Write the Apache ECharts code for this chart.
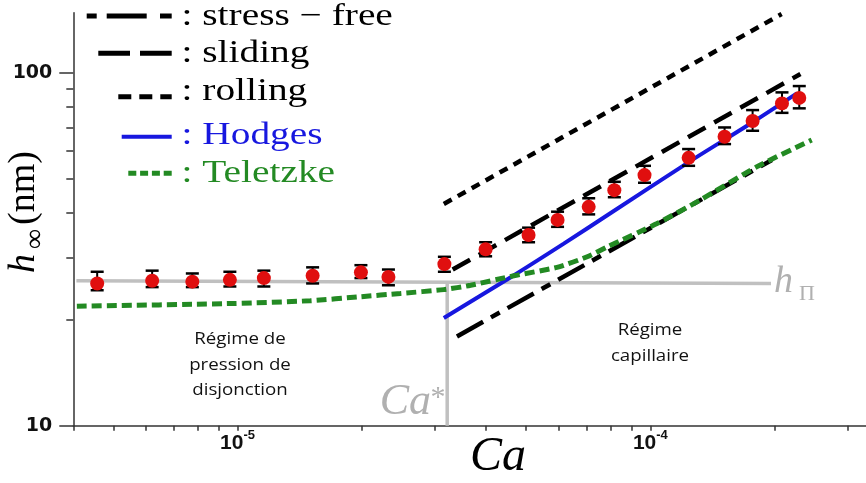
<!DOCTYPE html>
<html><head><meta charset="utf-8">
<script src="https://cdn.jsdelivr.net/npm/echarts@6/dist/echarts.min.js"></script>
<style>html,body{margin:0;padding:0;background:#fff}#c{width:866px;height:483px}</style>
</head><body><div id="c"></div>
<script>
// ---- data ----
const expCa   = [4.57e-6, 6.21e-6, 7.77e-6, 9.58e-6, 1.158e-5, 1.52e-5, 1.99e-5, 2.32e-5, 3.17e-5, 3.99e-5, 5.07e-5, 5.96e-5, 7.09e-5, 8.18e-5, 9.68e-5, 1.238e-4, 1.513e-4, 1.769e-4, 2.084e-4, 2.295e-4];
const expH    = [25.3, 25.75, 25.6, 25.9, 26.2, 26.6, 27.2, 26.4, 28.7, 31.6, 34.7, 38.3, 41.7, 46.5, 51.3, 57.4, 65.9, 73.0, 81.9, 84.9];
const expLow  = [24.2, 24.7, 24.7, 24.8, 24.8, 25.3, 26.2, 25.0, 27.3, 30.2, 33.1, 36.6, 39.7, 44.4, 48.8, 54.5, 62.8, 68.5, 77.0, 79.3];
const expHigh = [27.3, 27.5, 27.0, 27.3, 27.5, 28.1, 28.5, 27.7, 30.1, 33.1, 36.4, 40.4, 44.1, 49.1, 54.5, 60.8, 70.0, 78.4, 88.0, 91.7];

const stressFreeCa = [3.4e-5, 1.97e-4];
const stressFreeH  = [17.9, 56.6];
const slidingCa    = [3.32e-5, 2.31e-4];
const slidingH     = [27.7, 99.2];
const rollingCa    = [3.16e-5, 2.08e-4];
const rollingH     = [42.5, 146.7];
const hodgesCa     = [3.16e-5, 4.58e-5, 6.17e-5, 8.0e-5, 1.25e-4, 1.746e-4, 2.265e-4];
const hodgesH      = [20.2, 26.3, 32.8, 40.0, 56.2, 71.7, 87.4];
const teletzkeCa   = [4.08e-6, 9.78e-6, 1.50e-5, 1.985e-5, 2.48e-5, 3.16e-5, 3.67e-5, 4.67e-5, 5.94e-5, 7.03e-5, 7.86e-5, 1.038e-4, 1.321e-4, 1.813e-4, 2.46e-4];
const teletzkeH    = [21.8, 22.2, 22.6, 23.2, 23.7, 24.3, 25.0, 26.6, 28.1, 30.1, 32.1, 37.4, 43.6, 54.2, 64.5];

const hPiCa   = [4.07e-6, 1.96e-4];
const hPiH    = [25.75, 25.3];
const caStarCa = [3.22e-5, 3.22e-5];
const caStarH  = [10, 25.45];

const xTickVals  = [4e-6, 5e-6, 6e-6, 7e-6, 8e-6, 9e-6, 1e-5, 2e-5, 3e-5, 4e-5, 5e-5, 6e-5, 7e-5, 8e-5, 9e-5, 1e-4, 2e-4, 3e-4];
const xLabelVals = [1e-5, 1e-4];
const yMajorVals = [10, 100];
const yMinorVals = [20, 30, 40, 50, 60, 70, 80, 90];

const zip = (a, b) => a.map((v, i) => [v, b[i]]);

const BLACK = '#000000', BLUE = '#1717df', GREEN = '#238a23', GRAY = '#c0c0c0', GRAYTXT = '#b0b0b0', RED = '#e00f0f';
const AXC = '#333333';

const chart = echarts.init(document.getElementById('c'), null, {renderer: 'canvas'});

function lineSeries(name, data, color, width, type, z, smooth) {
  return {name, type: 'line', data, symbol: 'none', z: z || 2, silent: true, smooth: smooth || false,
    lineStyle: {color, width, type: type || 'solid', cap: 'butt', opacity: 1}};
}

const serifT = (x, y, text, size, color, extra) => Object.assign({
  type: 'text', x, y, z: 100,
  style: Object.assign({text, fill: color, font: size + 'px "Liberation Serif"', textAlign: 'left', align: 'left', textVerticalAlign: 'middle', verticalAlign: 'middle'}, extra && extra.style || {})
}, extra && extra.el || {});

const legFont = 31, legScale = 1.27;
const legendGraphics = [
  {type: 'line', z: 100, shape: {x1: 86.7, y1: 16, x2: 171.7, y2: 16}, style: {stroke: BLACK, lineWidth: 5, lineDash: [10, 10, 40, 13.3, 12, 60]}},
  {type: 'line', z: 100, shape: {x1: 98.3, y1: 53.3, x2: 171.7, y2: 53.3}, style: {stroke: BLACK, lineWidth: 5, lineDash: [31.7, 10]}},
  {type: 'line', z: 100, shape: {x1: 118.3, y1: 96.7, x2: 171.7, y2: 96.7}, style: {stroke: BLACK, lineWidth: 5, lineDash: [13, 8]}},
  {type: 'line', z: 100, shape: {x1: 121.7, y1: 136.7, x2: 171.7, y2: 136.7}, style: {stroke: BLUE, lineWidth: 4}},
  {type: 'line', z: 100, shape: {x1: 128.3, y1: 173.3, x2: 171.7, y2: 173.3}, style: {stroke: GREEN, lineWidth: 5, lineDash: [8, 3.8]}},
  serifT(181.5, 16.5, ': stress \u2212 free', legFont, BLACK, {el: {scaleX: legScale}}),
  serifT(181.5, 53.8, ': sliding', legFont, BLACK, {el: {scaleX: legScale}}),
  serifT(181.5, 91.5, ': rolling', legFont, BLACK, {el: {scaleX: legScale}}),
  serifT(181.5, 135.8, ': Hodges', legFont, BLUE, {el: {scaleX: legScale}}),
  serifT(181.5, 174.1, ': Teletzke', legFont, GREEN, {el: {scaleX: legScale}})
];

const annGraphics = [
  // y axis title, rotated
  {type: 'group', x: 30, y: 209, rotation: Math.PI / 2, z: 100, children: [
    {type: 'text', x: -64, y: -5.5, style: {text: 'h', fill: BLACK, font: 'italic 38px "Liberation Serif"', textAlign: 'left', align: 'left', textVerticalAlign: 'middle', verticalAlign: 'middle'}},
    {type: 'text', x: -40, y: 5.9, style: {text: '\u221E', fill: BLACK, font: '28px "Liberation Serif"', textAlign: 'left', align: 'left', textVerticalAlign: 'middle', verticalAlign: 'middle'}},
    {type: 'text', x: -16, y: -5.5, style: {text: '(nm)', fill: BLACK, font: '38px "Liberation Serif"', textAlign: 'left', align: 'left', textVerticalAlign: 'middle', verticalAlign: 'middle'}}
  ]},
  // x axis title
  serifT(498, 457.5, 'Ca', 48, BLACK, {style: {font: 'italic 48px "Liberation Serif"', textAlign: 'center', align: 'center'}}),
  // Ca*
  serifT(431, 402.2, 'Ca', 44, GRAYTXT, {style: {font: 'italic 44px "Liberation Serif"', textAlign: 'right', align: 'right'}}),
  serifT(438, 398, '*', 30, GRAYTXT, {style: {textAlign: 'center', align: 'center'}}),
  // h_Pi
  serifT(774, 282.5, 'h', 38, GRAYTXT, {style: {font: 'italic 38px "Liberation Serif"'}}),
  serifT(799, 294.4, '\u03A0', 22, GRAYTXT, {}),
  // regime labels
  {type: 'text', x: 240, y: 364.7, z: 100, scaleX: 1.1, style: {text: 'R\u00e9gime de\npression de\ndisjonction', fill: '#111', font: '17px "Open Sans"', lineHeight: 25.2, textAlign: 'center', align: 'center', textVerticalAlign: 'middle', verticalAlign: 'middle'}},
  {type: 'text', x: 650, y: 343.4, z: 100, scaleX: 1.1, style: {text: 'R\u00e9gime\ncapillaire', fill: '#111', font: '17px "Open Sans"', lineHeight: 25.8, textAlign: 'center', align: 'center', textVerticalAlign: 'middle', verticalAlign: 'middle'}}
];

const option = {
  animation: false,
  backgroundColor: '#ffffff',
  grid: {left: 73.3, right: 0, top: 12.7, bottom: 57.3, containLabel: false},
  xAxis: [{
    type: 'log', logBase: 10, min: 4e-6, max: 3.33e-4,
    axisLine: {show: true, lineStyle: {color: AXC, width: 1.5}},
    axisTick: {show: true, inside: false, length: 5, customValues: xTickVals, lineStyle: {color: AXC, width: 1.5}},
    minorTick: {show: false},
    splitLine: {show: false},
    axisLabel: {
      show: true, customValues: xLabelVals, margin: 3,
      fontSize: 21, fontWeight: 'bold', fontFamily: 'Liberation Sans', color: '#111',
      formatter: v => '{b|10}{s|' + Math.round(Math.log10(v)) + '}',
      rich: {
        b: {fontSize: 21, fontWeight: 'bold', fontFamily: 'Liberation Sans', color: '#111', lineHeight: 30},
        s: {fontSize: 13, fontWeight: 'bold', fontFamily: 'Liberation Sans', color: '#111', lineHeight: 14, verticalAlign: 'top'}
      }
    }
  }],
  yAxis: [{
    type: 'log', logBase: 10, min: 10, max: 148, position: 'left',
    axisLine: {show: true, lineStyle: {color: AXC, width: 1.5}},
    axisTick: {show: true, inside: false, length: 14, customValues: yMajorVals, lineStyle: {color: AXC, width: 1.5}},
    minorTick: {show: false},
    splitLine: {show: false},
    axisLabel: {show: true, customValues: yMajorVals, margin: 21, fontSize: 19, fontWeight: 'bold', fontFamily: 'DejaVu Sans', color: '#111'}
  }, {
    type: 'log', logBase: 10, min: 10, max: 148, position: 'left', offset: 0,
    axisLine: {show: false},
    axisTick: {show: true, inside: false, length: 7, customValues: yMinorVals, lineStyle: {color: AXC, width: 1.5}},
    minorTick: {show: false},
    splitLine: {show: false},
    axisLabel: {show: false}
  }],
  series: [
    lineSeries('hPi', zip(hPiCa, hPiH), GRAY, 3.5, 'solid', 1),
    lineSeries('CaStar', zip(caStarCa, caStarH), GRAY, 3.5, 'solid', 1),
    lineSeries('stress-free', zip(stressFreeCa, stressFreeH), BLACK, 4.5, [30, 9, 10, 9], 2),
    lineSeries('sliding', zip(slidingCa, slidingH), BLACK, 4.5, [20, 10], 2),
    lineSeries('rolling', zip(rollingCa, rollingH), BLACK, 4.5, [9, 7], 2),
    lineSeries('Hodges', zip(hodgesCa, hodgesH), BLUE, 4, 'solid', 3, 0.3),
    lineSeries('Teletzke', zip(teletzkeCa, teletzkeH), GREEN, 5, [10, 5], 3, 0.2),
    {
      name: 'errors', type: 'custom', z: 5, silent: true,
      data: expCa.map((c, i) => [c, expLow[i], expHigh[i]]),
      encode: {x: 0, y: [1, 2]},
      renderItem: function (params, api) {
        const x = api.value(0);
        const lo = api.coord([x, api.value(1)]);
        const hi = api.coord([x, api.value(2)]);
        const w = 6.5;
        return {type: 'group', children: [
          {type: 'line', shape: {x1: lo[0], y1: lo[1], x2: hi[0], y2: hi[1]}, style: {stroke: BLACK, lineWidth: 2}},
          {type: 'line', shape: {x1: lo[0] - w, y1: lo[1], x2: lo[0] + w, y2: lo[1]}, style: {stroke: BLACK, lineWidth: 2.5}},
          {type: 'line', shape: {x1: hi[0] - w, y1: hi[1], x2: hi[0] + w, y2: hi[1]}, style: {stroke: BLACK, lineWidth: 2.5}}
        ]};
      }
    },
    {
      name: 'experiment', type: 'scatter', z: 6, silent: true,
      data: zip(expCa, expH), symbol: 'circle', symbolSize: 14,
      itemStyle: {color: RED, opacity: 1}
    }
  ],
  graphic: legendGraphics.concat(annGraphics)
};
chart.setOption(option);
</script>
</body></html>
